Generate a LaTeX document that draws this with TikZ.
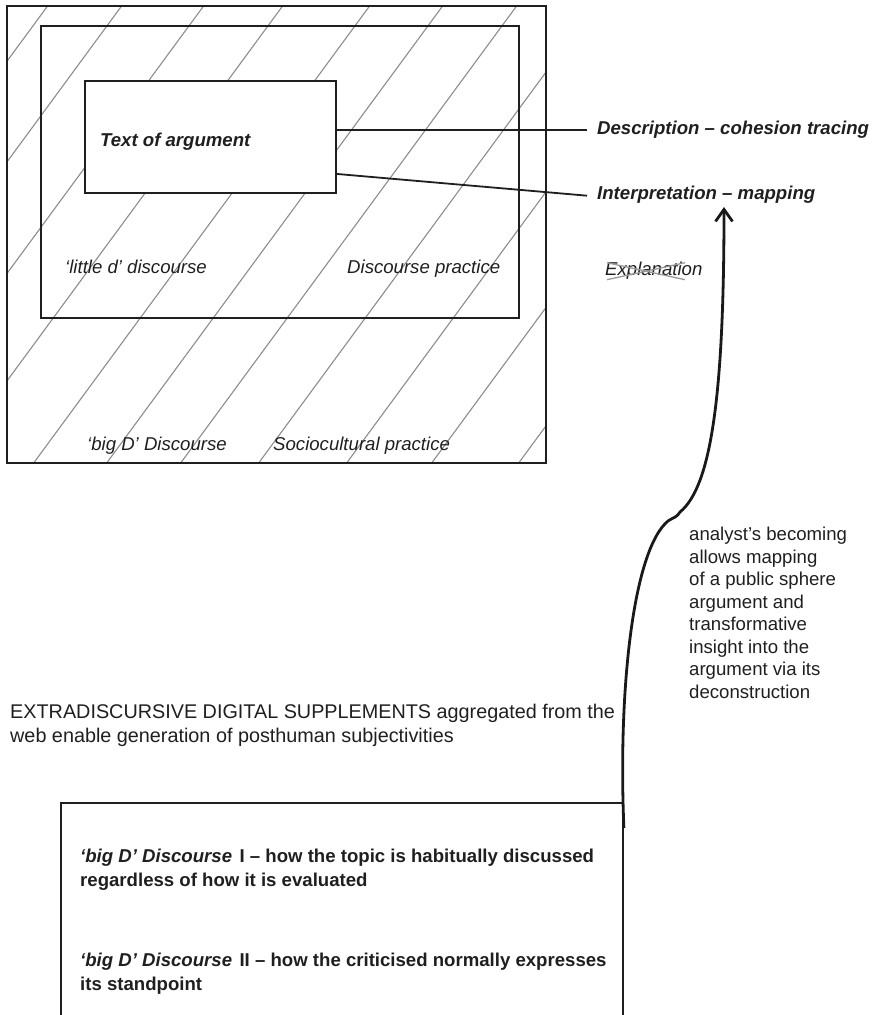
\documentclass[tikz,border=0pt]{standalone}
\usepackage{fontspec}
\setmainfont{Liberation Sans}
\usetikzlibrary{arrows.meta}
\begin{document}
\begin{tikzpicture}[x=1pt,y=-1pt,
  lbl/.style={font=\fontsize{18.6}{22.5}\selectfont, inner sep=0pt, text=black!88},
  lblw/.style={font=\fontsize{18.6}{24}\selectfont, inner sep=0pt, text=black!88, align=left},
  box/.style={draw=black!88, line width=1.9pt},
  hatch/.style={draw=black!45, line width=1.1pt},
  conn/.style={draw=black!88, line width=1.8pt},
  strike/.style={draw=black!40, line width=1.3pt},
  bigarrow/.style={draw=black!90, line width=2.8pt, -{Straight Barb[length=12pt,width=17pt]}}]
\useasboundingbox (0,0) rectangle (875,1015);
% hatching
\begin{scope}
  \clip (6,5) rectangle (545,462);
  \foreach \x in {48,122,204,283,370,443,517,595,683,768,855}
    \draw[hatch] (\x+4,0) -- (\x-340,468);
\end{scope}
% boxes
\node[box, minimum width=539pt, minimum height=457pt, anchor=north west, inner sep=0pt] (outer) at (6,5) {};
\node[box, minimum width=478pt, minimum height=292pt, anchor=north west, inner sep=0pt] (inner) at (40,25) {};
\node[box, fill=white, minimum width=251pt, minimum height=112pt, anchor=north west, inner sep=0pt] (tb) at (84,80) {};
\node[lbl, anchor=base west, font=\fontsize{18.6}{22.5}\selectfont\bfseries\itshape] (tbl) at (100,146) {Text of argument};
% right labels
\node[lbl, anchor=base west, font=\fontsize{18.6}{22.5}\selectfont\bfseries\itshape] (desc) at (597,134.5) {Description – cohesion tracing};
\node[lbl, anchor=base west, font=\fontsize{18.6}{22.5}\selectfont\bfseries\itshape] (interp) at (597,199.5) {Interpretation – mapping};
\node[lbl, anchor=base west, font=\fontsize{18.6}{22.5}\selectfont\itshape] (expl) at (605,275.5) {Explanation};
\draw[strike] ([xshift=2pt,yshift=-9pt]expl.west) -- ([xshift=80pt,yshift=8pt]expl.west);
\draw[strike] ([xshift=2pt,yshift=8pt]expl.west) -- ([xshift=80pt,yshift=-9pt]expl.west);
% connectors
\draw[conn] (tb.east |- desc.west) -- ([xshift=-10pt]desc.west);
\draw[conn] ([yshift=-37pt]tb.east) -- ([xshift=-10pt,yshift=-1pt]interp.west);
% inner labels
\node[lbl, anchor=base west, font=\fontsize{18.6}{22.5}\selectfont\itshape] (ld) at (65,273.5) {‘little d’ discourse};
\node[lbl, anchor=base west, font=\fontsize{18.6}{22.5}\selectfont\itshape] (dp) at (347,273.5) {Discourse practice};
\node[lbl, anchor=base west, font=\fontsize{18.6}{22.5}\selectfont\itshape] (bd) at (87,450.5) {‘big D’ Discourse};
\node[lbl, anchor=base west, font=\fontsize{18.6}{22.5}\selectfont\itshape] (sp) at (273,450.5) {Sociocultural practice};
% analyst text (base anchor = last line)
\node[lbl, anchor=base west, align=left] (an) at (689,698) {analyst’s becoming\\allows mapping\\of a public sphere\\argument and\\transformative\\insight into the\\argument via its\\deconstruction};
% extradiscursive
\node[lblw, anchor=base west, font=\fontsize{19.8}{24}\selectfont] (ex) at (10,742.5) {EXTRADISCURSIVE DIGITAL SUPPLEMENTS aggregated from the\\web enable generation of posthuman subjectivities};
% bottom box
\node[box, minimum width=562pt, minimum height=213pt, anchor=north west, inner sep=0pt] (bb) at (60,802) {};
\node[lblw, anchor=base west] (d1) at (80,886.5) {\textbf{\textit{‘big D’ Discourse}}\hspace{0.4em}\textbf{I – how the topic is habitually discussed}\\\textbf{regardless of how it is evaluated}};
\node[lblw, anchor=base west] (d2) at (80,990.5) {\textbf{\textit{‘big D’ Discourse}}\hspace{0.4em}\textbf{II – how the criticised normally expresses}\\\textbf{its standpoint}};
% arrow
\coordinate (start) at ([yshift=-26pt]bb.north east);
\coordinate (tip) at (724,207);
\draw[bigarrow] (start) .. controls (618,690) and (633,550) .. (668,521)
  .. controls (674,517) and (676,518) .. (680,512)
  .. controls (712,486) and (724,390) .. (tip);
\end{tikzpicture}
\end{document}
